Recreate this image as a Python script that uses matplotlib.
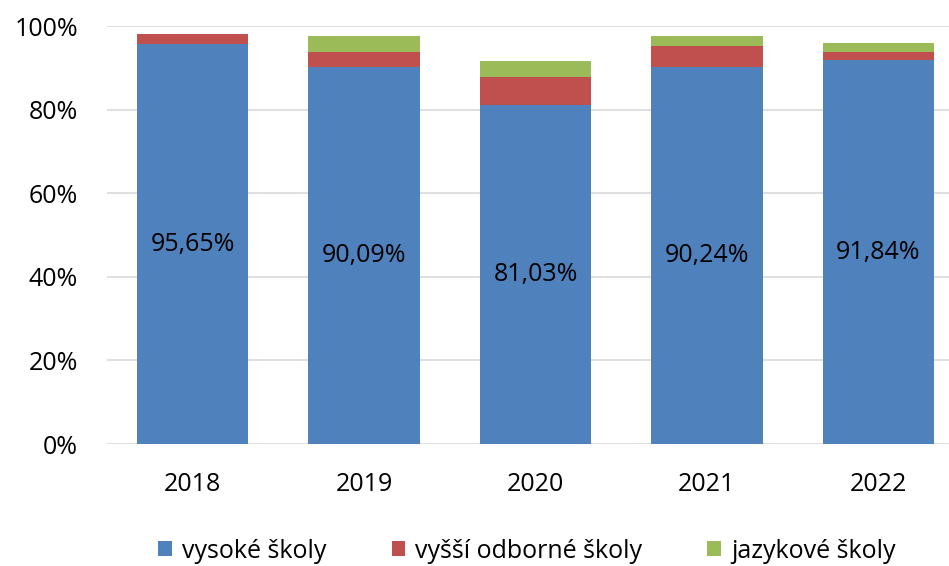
import numpy as np
import matplotlib.pyplot as plt
from matplotlib.ticker import FuncFormatter

# Data (percent)
roky = ['2018', '2019', '2020', '2021', '2022']
vysoke = [95.65, 90.09, 81.03, 90.24, 91.84]
vyssi_odborne = [2.35, 3.76, 6.84, 5.06, 2.0]
jazykove = [0.0, 3.75, 3.68, 2.4, 2.05]

plt.rcParams['font.family'] = ['Open Sans', 'DejaVu Sans']

fig = plt.figure(figsize=(9.49, 5.66), dpi=100)
ax = fig.add_axes([107 / 949, 1 - 444 / 566, 857 / 949, 418 / 566])

x = np.arange(len(roky))
w = 0.65
modra = '#4F81BD'
cervena = '#C0504D'
zelena = '#9BBB59'

b1 = ax.bar(x, vysoke, w, color=modra, label='vysoké školy', zorder=3)
spodek = np.array(vysoke)
b2 = ax.bar(x, vyssi_odborne, w, bottom=spodek, color=cervena, label='vyšší odborné školy', zorder=3)
spodek = spodek + np.array(vyssi_odborne)
b3 = ax.bar(x, jazykove, w, bottom=spodek, color=zelena, label='jazykové školy', zorder=3)

# popisky v modrých sloupcích
for xi, v in zip(x, vysoke):
    ax.text(xi, v / 2, f'{v:.2f}%'.replace('.', ','), ha='center', va='center',
            fontsize=18, color='black', zorder=4)

ax.set_xlim(-0.5, 4.5)
ax.set_ylim(0, 100)
ax.set_yticks(np.arange(0, 101, 20))
ax.yaxis.set_major_formatter(FuncFormatter(lambda v, p: f'{v:.0f}%'))
ax.set_xticks(x)
ax.set_xticklabels(roky)
ax.tick_params(axis='both', length=0, labelsize=18, colors='black')
ax.tick_params(axis='x', pad=20)
ax.tick_params(axis='y', pad=21)
ax.grid(axis='y', color='#D9D9D9', linewidth=1.2, zorder=0)
for s in ax.spines.values():
    s.set_visible(False)

fig.legend(handles=[b1, b2, b3], loc='center', bbox_to_anchor=(527 / 949, 1 - 551 / 566),
           ncol=3, frameon=False, fontsize=18, handlelength=0.55, handleheight=0.55,
           handletextpad=0.4, columnspacing=2.6)

fig.savefig('out.png', dpi=100)
